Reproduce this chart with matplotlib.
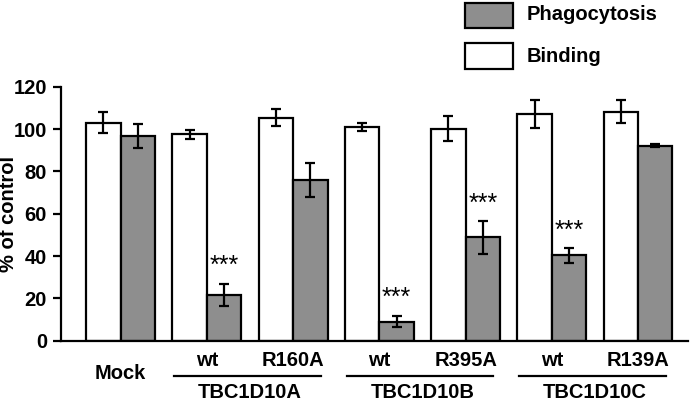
import numpy as np
import matplotlib
matplotlib.use("Agg")
import matplotlib.pyplot as plt
from matplotlib.patches import Rectangle

plt.rcParams['font.family'] = ['Liberation Sans', 'DejaVu Sans']
plt.rcParams['font.weight'] = 'bold'

# data
conditions = ["Mock", "wt", "R160A", "wt", "R395A", "wt", "R139A"]
groups = ["TBC1D10A", "TBC1D10B", "TBC1D10C"]
binding = [103, 97.5, 105.5, 101, 100.3, 107.1, 108.2]
binding_err = [5.0, 2.3, 4.0, 2.0, 6.0, 6.6, 5.5]
phago = [96.7, 21.6, 76, 9, 48.8, 40.3, 92.1]
phago_err = [5.5, 5.3, 8.0, 2.8, 7.7, 3.4, 0.7]
signif = [False, True, False, True, True, True, False]

WHITE = 'white'
GRAY = '#8e8e8e'
FS = 14.5

fig = plt.figure(figsize=(6.9, 4.04), dpi=100)
ax = fig.add_axes([0.0884, 0.157, 0.9087, 0.628])

x = np.arange(len(conditions))
w = 0.4
ekw = dict(elinewidth=1.6, capthick=1.6, capsize=3.8, ecolor='black')
ax.bar(x - w / 2, binding, w, color=WHITE, edgecolor='black', linewidth=1.6,
       yerr=binding_err, error_kw=ekw, zorder=2)
ax.bar(x + w / 2, phago, w, color=GRAY, edgecolor='black', linewidth=1.6,
       yerr=phago_err, error_kw=ekw, zorder=2)

for i in range(len(x)):
    if signif[i]:
        ax.text(x[i] + w / 2, phago[i] + phago_err[i] + 5, "***",
                ha='center', va='baseline', fontsize=18, fontweight='normal')

ax.set_xlim(-0.693, 6.58)
ax.set_ylim(0, 120)
ax.set_yticks([0, 20, 40, 60, 80, 100, 120])
ax.tick_params(axis='y', labelsize=FS, width=1.6, length=6, pad=4)
ax.tick_params(axis='x', length=0, labelbottom=False)
for lab in ax.get_yticklabels():
    lab.set_fontweight('bold')
ax.spines['top'].set_visible(False)
ax.spines['right'].set_visible(False)
ax.spines['left'].set_linewidth(1.6)
ax.spines['bottom'].set_linewidth(1.6)
ax.set_ylabel("% of control", fontsize=FS, fontweight='bold')
ax.yaxis.set_label_coords(-0.0686, 0.5)

# category labels under the axis
trans = ax.get_xaxis_transform()
for i, c in enumerate(conditions):
    yy = -0.131 if c == "Mock" else -0.080
    ax.text(x[i], yy, c, transform=trans, ha='center', va='center',
            fontsize=FS, fontweight='bold', clip_on=False)

for g, name in enumerate(groups):
    i0 = 1 + 2 * g
    i1 = i0 + 1
    ax.plot([x[i0] - 0.38, x[i1] + 0.32], [-0.138, -0.138], transform=trans,
            color='black', linewidth=1.6, clip_on=False)
    ax.text((x[i0] + x[i1]) / 2, -0.204, name, transform=trans, ha='center',
            va='center', fontsize=FS, fontweight='bold', clip_on=False)

# legend drawn by hand
fig.add_artist(Rectangle((465 / 690, 1 - 28 / 404), 48 / 690, 25 / 404,
                         transform=fig.transFigure, facecolor=GRAY,
                         edgecolor='black', linewidth=1.6))
fig.add_artist(Rectangle((465 / 690, 1 - 69 / 404), 48 / 690, 26 / 404,
                         transform=fig.transFigure, facecolor=WHITE,
                         edgecolor='black', linewidth=1.6))
fig.text(527 / 690, 1 - 15 / 404, "Phagocytosis", ha='left', va='center',
         fontsize=FS, fontweight='bold')
fig.text(527 / 690, 1 - 56 / 404, "Binding", ha='left', va='center',
         fontsize=FS, fontweight='bold')

fig.savefig("out.png", dpi=100)
